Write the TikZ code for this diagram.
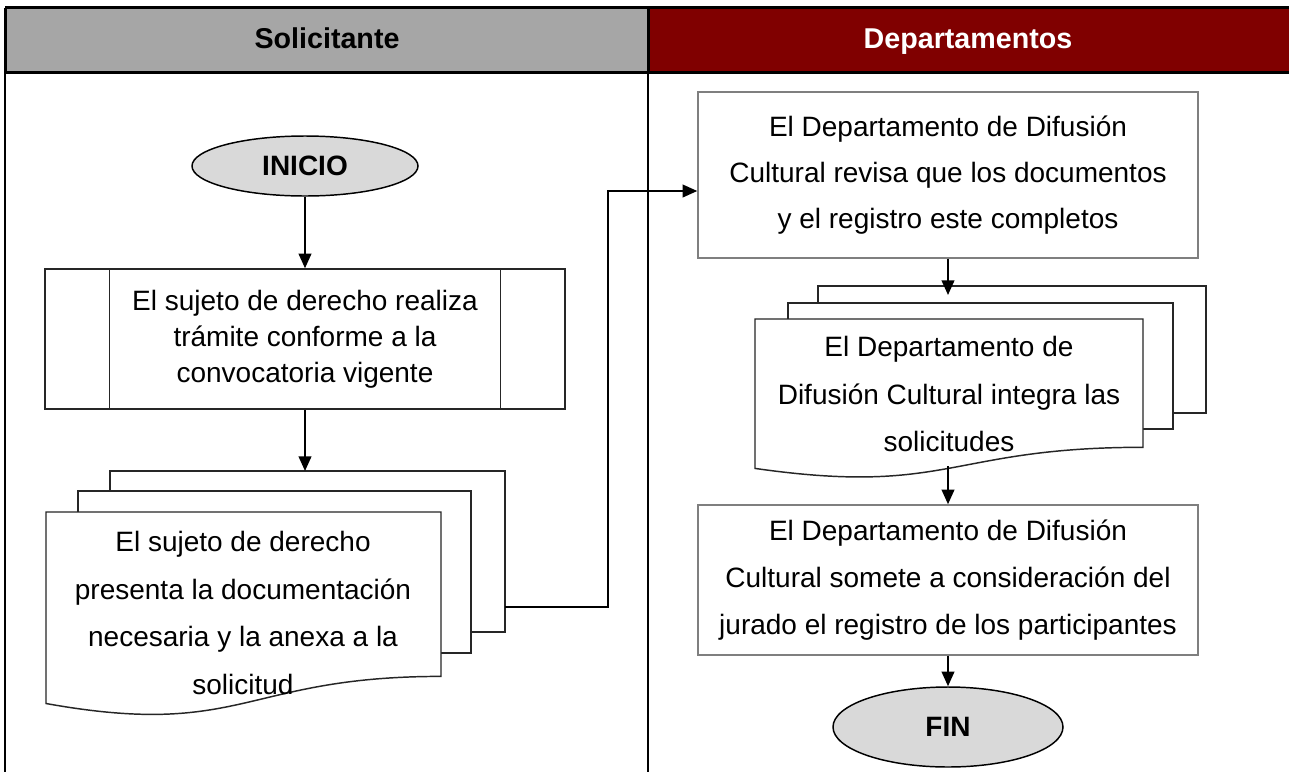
\documentclass[tikz,border=0pt]{standalone}
\usepackage{fontspec}
\setmainfont{Liberation Sans}
\usetikzlibrary{arrows.meta,shapes.geometric,calc}
\definecolor{hdrgray}{HTML}{A6A6A6}
\definecolor{hdrred}{HTML}{800000}
\definecolor{termfill}{HTML}{D9D9D9}
\definecolor{boxline}{HTML}{7F7F7F}
\definecolor{shapeline}{HTML}{262626}
\begin{document}
\begin{tikzpicture}[x=0.75pt,y=-0.75pt,
  hdr/.style={font=\bfseries\fontsize{21.5}{26}\selectfont, inner sep=0pt, anchor=base},
  term/.style={ellipse, draw=black, line width=1.1pt, fill=termfill, inner sep=0pt,
    font=\bfseries\fontsize{21}{25}\selectfont},
  procbox/.style={rectangle, draw=boxline, line width=1.1pt, fill=white, align=center, inner sep=0pt,
    minimum width=375pt, font=\fontsize{21}{34.5}\selectfont},
  predef/.style={rectangle, draw=shapeline, line width=1.1pt, fill=white, align=center, inner sep=0pt,
    minimum width=390pt, minimum height=105pt, font=\fontsize{21}{27}\selectfont},
  sheet/.style={draw=shapeline, fill=white, line width=1.1pt},
  doctext/.style={align=center, inner sep=0pt, font=\fontsize{21}{35.6}\selectfont},
  arr/.style={draw=black, line width=1.5pt, -{Triangle[length=11pt,width=9.5pt]}}]
\useasboundingbox (0,0) rectangle (1289,772);
\fill[white] (0,0) rectangle (1289,772);
% header
\fill[hdrgray] (5,7.5) rectangle (648,72.5);
\fill[hdrred] (648,7.5) rectangle (1289,72.5);
\draw[line width=2.25pt] (5,7.5) -- (1289,7.5) (5,72.5) -- (1289,72.5) (5,7.5) -- (5,72.5) (648,7.5) -- (648,72.5);
\draw[line width=1.5pt] (5,72.5) -- (5,772) (648,72.5) -- (648,772);
\node[hdr] (h1) at (327,48) {Solicitante};
\node[hdr,text=white] (h2) at (968,48) {Departamentos};
% INICIO
\node[term, minimum width=169.5pt, minimum height=45pt] (ini) at (305,166) {INICIO};
% predefined process
\node[predef] (p1) at (305,339) {El sujeto de derecho realiza\\trámite conforme a la\\convocatoria vigente};
\draw[shapeline, line width=1.1pt] ($(p1.north west)+(65,0)$) -- ($(p1.south west)+(65,0)$)
  ($(p1.north east)+(-65,0)$) -- ($(p1.south east)+(-65,0)$);
% left multidocument
\draw[sheet] (110,471) rectangle (505,632);
\draw[sheet] (78,491) rectangle (471,653);
\draw[sheet] (46,512) -- (441,512) -- (441,676.4) .. controls (243.5,676.4) and (243.5,739) .. (46,703.5) -- cycle;
\coordinate (d1top) at (305,471);
\coordinate (d1r) at (505,607);
\node[doctext] (d1) at (243,613) {El sujeto de derecho\\presenta la documentación\\necesaria y la anexa a la\\solicitud};
% right top box
\node[procbox, minimum height=124.5pt] (b1) at (948,175) {El Departamento de Difusión\\Cultural revisa que los documentos\\y el registro este completos};
% right multidocument
\draw[sheet] (818,286) rectangle (1206,413);
\draw[sheet] (788,303) rectangle (1173,429);
\draw[sheet] (755,319) -- (1143,319) -- (1143,447.3) .. controls (949,447.3) and (949,496.2) .. (755,468.4) -- cycle;
\coordinate (d2top) at (948,295);
\coordinate (d2bot) at (948,466);
\node[doctext] (d2) at (949,394) {El Departamento de\\Difusión Cultural integra las\\solicitudes};
% right bottom box
\node[procbox, minimum height=112.5pt, font=\fontsize{21}{35.3}\selectfont] (b2) at (948,580) {El Departamento de Difusión\\Cultural somete a consideración del\\jurado el registro de los participantes};
% FIN
\node[term, minimum width=172.5pt, minimum height=60pt] (fin) at (948,727) {FIN};
% connectors
\draw[arr] (ini.south) -- (p1.north);
\draw[arr] (p1.south) -- (d1top);
\draw[arr] (d1r) -- ++(103,0) |- ([yshift=-12pt]b1.west);
\draw[arr] (b1.south) -- (d2top);
\draw[arr] (d2bot) -- (b2.north);
\draw[arr] (b2.south) -- (fin.north);
\end{tikzpicture}
\end{document}
